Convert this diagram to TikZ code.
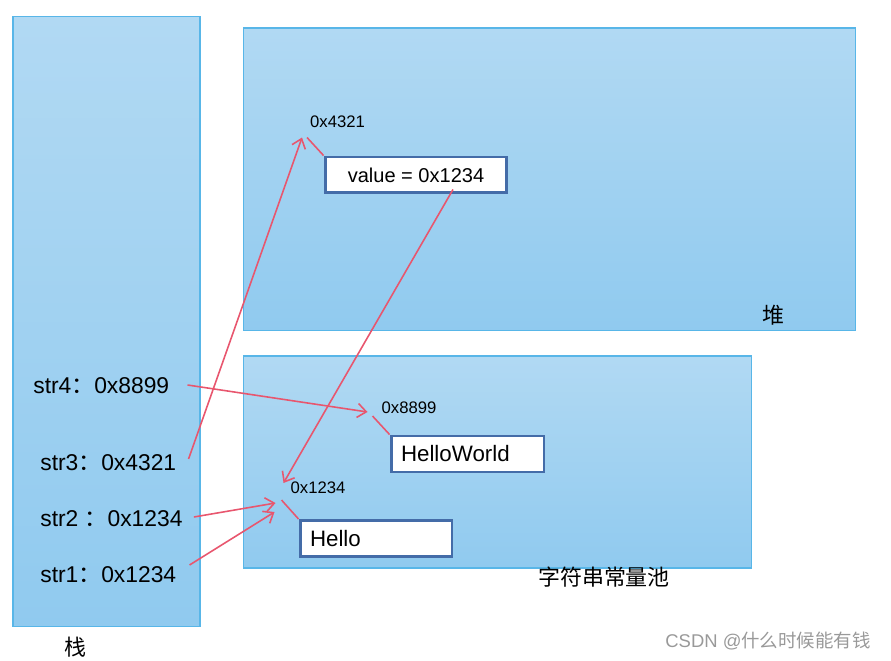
\documentclass[tikz,border=0pt]{standalone}
\usepackage{fontspec}
\setmainfont{Liberation Sans}
\newfontfamily\cjk{Noto Sans CJK SC}
\usetikzlibrary{positioning,arrows.meta,calc}

\definecolor{areatop}{RGB}{177,217,243}
\definecolor{areabot}{RGB}{144,202,239}
\definecolor{areaedge}{RGB}{88,182,232}
\definecolor{celledge}{RGB}{68,108,168}
\definecolor{ptr}{RGB}{232,86,110}

\begin{document}
\begin{tikzpicture}[x=0.02cm,y=-0.02cm,
  area/.style={draw=areaedge,line width=0.6pt,top color=areatop,bottom color=areabot,inner sep=0pt},
  cell/.style={draw=celledge,line width=1.7pt,fill=white,font=\fontsize{12.7}{14}\selectfont,
               minimum height=0.72cm,inner xsep=0.2cm,inner ysep=0pt},
  addr/.style={font=\fontsize{9.5}{11}\selectfont,inner sep=1pt},
  var/.style={font=\fontsize{13}{15}\selectfont,anchor=west,inner sep=0pt},
  title/.style={font=\cjk\fontsize{12.5}{14}\selectfont,inner sep=0pt},
  arr/.style={-{Straight Barb[length=5pt,width=8pt]},ptr,line width=0.9pt},
  tie/.style={ptr,line width=0.9pt}]
\useasboundingbox (0,0) rectangle (891,661);
% memory areas
\node[area,minimum width=3.74cm,minimum height=12.22cm] (stack) at (106.5,321.5) {};
\node[area,minimum width=12.26cm,minimum height=6.06cm] (heap) at (549.5,179.5) {};
\node[area,minimum width=10.18cm,minimum height=4.24cm] (pool) at (497.5,462) {};
\node[title] (stackname) at (75,647) {栈};
\node[title] (heapname) at (773,315) {堆};
\node[title] (poolname) at (604,577) {字符串常量池};
% stack variables
\node[var] (s4) at (33,386) {str4{\cjk ：}0x8899};
\node[var] (s3) at (40,463) {str3{\cjk ：}0x4321};
\node[var] (s2) at (40,519) {str2 {\cjk ：}0x1234};
\node[var] (s1) at (40,575) {str1{\cjk ：}0x1234};
% objects
\node[cell,minimum width=3.64cm,font=\fontsize{11.4}{13}\selectfont] (val) at (416,175) {value = 0x1234};
\node[cell,text width=2.66cm,align=left] (hw) at (467.5,454) {HelloWorld};
\node[cell,text width=2.64cm,align=left] (hello) at (376,538.5) {Hello};
\node[addr] (a4321) at (337.5,121.5) {0x4321};
\node[addr] (a8899) at (409,408) {0x8899};
\node[addr] (a1234) at (318,488) {0x1234};
% address ties
\draw[tie] ($(a4321.south west)+(-1,8)$) -- (val.north west);
\draw[tie] ($(a8899.south west)+(-7,0)$) -- (hw.north west);
\draw[tie] ($(a1234.south west)+(-7,4)$) -- (hello.north west);
% references
\draw[arr] ($(s4.east)+(18,-1)$) -- ($(a8899.west)+(-12,4)$);
\draw[arr] ($(s3.east)+(12,-4)$) -- ($(a4321.south west)+(-6,8)$);
\draw[arr] ($(val.south)+(37,-5)$) -- ($(a1234.west)+(-5,-5)$);
\draw[arr] ($(s2.east)+(11,-2)$) -- ($(a1234.south west)+(-13,7)$);
\draw[arr] ($(s1.east)+(13,-10)$) -- ($(a1234.south west)+(-14,16)$);
\node[text=black!40,font=\fontsize{10.5}{12}\selectfont,inner sep=0pt] (mark) at (768,641) {CSDN @{\cjk 什么时候能有钱}};
\end{tikzpicture}
\end{document}
